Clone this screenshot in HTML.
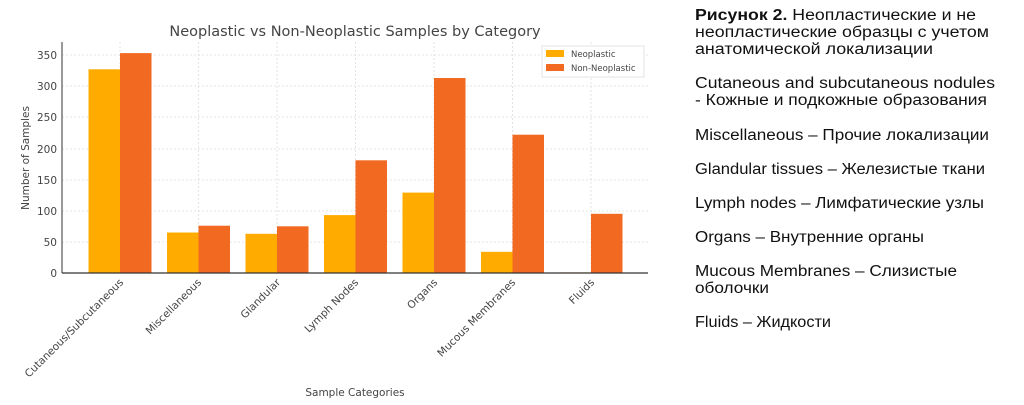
<!DOCTYPE html>
<html><head><meta charset="utf-8"><style>
html,body{margin:0;padding:0;background:#fff;width:1024px;height:405px;overflow:hidden}
svg{display:block}
</style></head><body>
<svg width="1024" height="405" xmlns="http://www.w3.org/2000/svg" font-family="'DejaVu Sans','Liberation Sans',sans-serif">
<!-- grid -->
<g stroke="#ddd" stroke-width="0.8" stroke-dasharray="2,2">
<line x1="62" x2="648" y1="242" y2="242"/><line x1="62" x2="648" y1="211" y2="211"/>
<line x1="62" x2="648" y1="180" y2="180"/><line x1="62" x2="648" y1="149" y2="149"/>
<line x1="62" x2="648" y1="117" y2="117"/><line x1="62" x2="648" y1="86" y2="86"/>
<line x1="62" x2="648" y1="55" y2="55"/>
<line x1="120" x2="120" y1="42" y2="273"/><line x1="198.5" x2="198.5" y1="42" y2="273"/>
<line x1="277" x2="277" y1="42" y2="273"/><line x1="355.5" x2="355.5" y1="42" y2="273"/>
<line x1="434" x2="434" y1="42" y2="273"/><line x1="512.5" x2="512.5" y1="42" y2="273"/>
<line x1="591" x2="591" y1="42" y2="273"/>
</g>
<!-- bars: y = 273 - v*0.6229 -->
<g fill="#FFAB00">
<rect x="88.5" y="69.3" width="31.5" height="203.7"/>
<rect x="167" y="232.5" width="31.5" height="40.5"/>
<rect x="245.5" y="233.8" width="31.5" height="39.2"/>
<rect x="324" y="215.1" width="31.5" height="57.9"/>
<rect x="402.5" y="192.6" width="31.5" height="80.4"/>
<rect x="481" y="251.8" width="31.5" height="21.2"/>
<rect x="559.5" y="272.4" width="31.5" height="0.6"/>
</g>
<g fill="#F26A21">
<rect x="120" y="53.1" width="31.5" height="219.9"/>
<rect x="198.5" y="225.7" width="31.5" height="47.3"/>
<rect x="277" y="226.3" width="31.5" height="46.7"/>
<rect x="355.5" y="160.3" width="31.5" height="112.7"/>
<rect x="434" y="78" width="31.5" height="195"/>
<rect x="512.5" y="134.7" width="31.5" height="138.3"/>
<rect x="591" y="213.8" width="31.5" height="59.2"/>
</g>
<!-- axes -->
<line x1="62" y1="42" x2="62" y2="273" stroke="#333" stroke-width="1"/>
<line x1="62" y1="273" x2="648" y2="273" stroke="#333" stroke-width="1.2"/>
<g font-size="10.5" fill="#444" text-anchor="end">
<text x="57" y="277">0</text><text x="57" y="246">50</text><text x="57" y="215">100</text>
<text x="57" y="184">150</text><text x="57" y="153">200</text><text x="57" y="121">250</text>
<text x="57" y="90">300</text><text x="57" y="59">350</text>
</g>
<text x="355" y="36" font-size="14.5" fill="#444" text-anchor="middle">Neoplastic vs Non-Neoplastic Samples by Category</text>
<text transform="translate(29,158) rotate(-90)" font-size="10.5" fill="#444" text-anchor="middle">Number of Samples</text>
<text x="355" y="396" font-size="10.5" fill="#444" text-anchor="middle">Sample Categories</text>
<g font-size="10.5" fill="#444" text-anchor="end">
<text transform="translate(124,283) rotate(-45)">Cutaneous/Subcutaneous</text>
<text transform="translate(202,283) rotate(-45)">Miscellaneous</text>
<text transform="translate(281,283) rotate(-45)">Glandular</text>
<text transform="translate(359,283) rotate(-45)">Lymph Nodes</text>
<text transform="translate(438,283) rotate(-45)">Organs</text>
<text transform="translate(516,283) rotate(-45)">Mucous Membranes</text>
<text transform="translate(595,283) rotate(-45)">Fluids</text>
</g>
<!-- legend -->
<rect x="542" y="46" width="102" height="31" fill="#fff" stroke="#ddd" stroke-width="0.8"/>
<rect x="546" y="50" width="18" height="7" fill="#FFAB00"/>
<rect x="546" y="64" width="18" height="7" fill="#F26A21"/>
<g font-size="8.5" fill="#444"><text x="571" y="57">Neoplastic</text><text x="571" y="71">Non-Neoplastic</text></g>
<!-- right text -->
<g font-family="'Liberation Sans','DejaVu Sans',sans-serif" font-size="15.5" fill="#111" lengthAdjust="spacingAndGlyphs">
<text x="695" y="20" textLength="281" lengthAdjust="spacingAndGlyphs"><tspan font-weight="bold">Рисунок 2.</tspan> Неопластические и не</text>
<text x="695" y="37" textLength="294" lengthAdjust="spacingAndGlyphs">неопластические образцы с учетом</text>
<text x="695" y="54" textLength="238" lengthAdjust="spacingAndGlyphs">анатомической локализации</text>
<text x="695" y="88" textLength="300" lengthAdjust="spacingAndGlyphs">Cutaneous and subcutaneous nodules</text>
<text x="695" y="105" textLength="292" lengthAdjust="spacingAndGlyphs">- Кожные и подкожные образования</text>
<text x="695" y="140" textLength="294" lengthAdjust="spacingAndGlyphs">Miscellaneous – Прочие локализации</text>
<text x="695" y="174" textLength="290" lengthAdjust="spacingAndGlyphs">Glandular tissues – Железистые ткани</text>
<text x="695" y="208" textLength="289" lengthAdjust="spacingAndGlyphs">Lymph nodes – Лимфатические узлы</text>
<text x="695" y="242" textLength="229" lengthAdjust="spacingAndGlyphs">Organs – Внутренние органы</text>
<text x="695" y="276" textLength="262" lengthAdjust="spacingAndGlyphs">Mucous Membranes – Слизистые</text>
<text x="695" y="293" textLength="74" lengthAdjust="spacingAndGlyphs">оболочки</text>
<text x="695" y="327" textLength="136" lengthAdjust="spacingAndGlyphs">Fluids – Жидкости</text>
</g>
</svg>
</body></html>
